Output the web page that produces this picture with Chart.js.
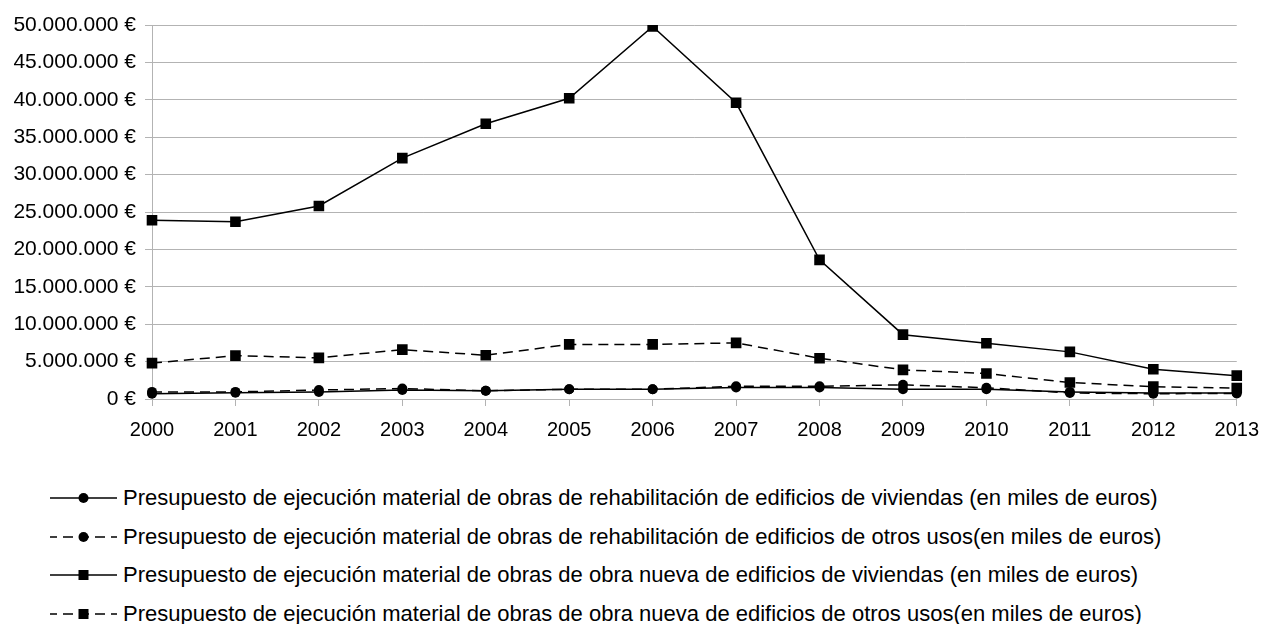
<!DOCTYPE html>
<html lang="es">
<head>
<meta charset="utf-8">
<title>Presupuesto de ejecución material</title>
<script src="https://cdn.jsdelivr.net/npm/chart.js@4.4.1/dist/chart.umd.min.js"></script>
<style>
    body { margin: 0; background: #fff; font-family: "Liberation Sans", Arial, sans-serif; }
    #wrap { position: relative; width: 1271px; height: 624px; }
    #chartBox { position: absolute; left: 0; top: 0; width: 1271px; height: 440px; }
    #leyenda { position: absolute; left: 50px; top: 479px; }
    .fila { display: flex; align-items: center; height: 38.5px; font-size: 22px; color: #000; white-space: nowrap; }
    .fila svg { margin-right: 6px; }
</style>
</head>
<body>
<div id="wrap">
    <div id="chartBox"><canvas id="myChart"></canvas></div>
    <div id="leyenda"></div>
</div>
<script>
// Años
const anios = ['2000', '2001', '2002', '2003', '2004', '2005', '2006', '2007', '2008', '2009', '2010', '2011', '2012', '2013'];

// Series (euros)
const rehabViviendas = [700000, 850000, 950000, 1200000, 1100000, 1300000, 1300000, 1550000, 1550000, 1300000, 1300000, 950000, 800000, 800000];
const rehabOtrosUsos = [950000, 950000, 1200000, 1400000, 1100000, 1300000, 1300000, 1700000, 1700000, 1900000, 1500000, 800000, 700000, 750000];
const nuevaViviendas = [23900000, 23700000, 25800000, 32200000, 36800000, 40200000, 49800000, 39600000, 18600000, 8600000, 7450000, 6300000, 3970000, 3120000];
const nuevaOtrosUsos = [4800000, 5800000, 5500000, 6600000, 5850000, 7300000, 7300000, 7500000, 5450000, 3900000, 3400000, 2200000, 1650000, 1450000];

// Etiquetas de la leyenda
const etiquetas = [
    'Presupuesto de ejecución material de obras de rehabilitación de edificios de viviendas (en miles de euros)',
    'Presupuesto de ejecución material de obras de rehabilitación de edificios de otros usos(en miles de euros)',
    'Presupuesto de ejecución material de obras de obra nueva de edificios de viviendas (en miles de euros)',
    'Presupuesto de ejecución material de obras de obra nueva de edificios de otros usos(en miles de euros)'
];

// Eje Y
const ejeMax = 50000000;
const ejePaso = 5000000;

const series = [
    { label: etiquetas[0], data: rehabViviendas, dash: [], punto: 'circle' },
    { label: etiquetas[1], data: rehabOtrosUsos, dash: [10, 6], punto: 'circle' },
    { label: etiquetas[2], data: nuevaViviendas, dash: [], punto: 'rect' },
    { label: etiquetas[3], data: nuevaOtrosUsos, dash: [10, 6], punto: 'rect' }
];

const gris = '#b3b3b3';
const familia = '"Liberation Sans", Arial, sans-serif';

function formatoEuros(v) {
    return String(v).replace(/\B(?=(\d{3})+(?!\d))/g, '.') + ' €';
}

function createChart() {
    const ctx = document.getElementById('myChart').getContext('2d');
    new Chart(ctx, {
        type: 'line',
        data: {
            labels: anios,
            datasets: series.map(s => ({
                label: s.label,
                data: s.data,
                borderColor: '#000',
                backgroundColor: '#000',
                borderWidth: 1.5,
                borderDash: s.dash,
                pointStyle: s.punto,
                pointRadius: s.punto === 'rect' ? 7.5 : 5,
                pointBorderWidth: 0,
                tension: 0,
                fill: false
            }))
        },
        options: {
            responsive: true,
            maintainAspectRatio: false,
            animation: false,
            layout: { padding: { top: 25, right: 26, left: 0, bottom: 0 } },
            plugins: {
                legend: { display: false },
                tooltip: { enabled: false }
            },
            scales: {
                x: {
                    offset: false,
                    grid: { drawOnChartArea: false, drawTicks: true, tickLength: 7, color: gris },
                    border: { color: gris },
                    ticks: { color: '#000', font: { family: familia, size: 20 }, padding: 12, maxRotation: 0, autoSkip: false },
                    afterFit: s => { s.height = 41; }
                },
                y: {
                    min: 0,
                    max: ejeMax,
                    grid: { color: gris, tickLength: 7 },
                    border: { color: gris },
                    ticks: { stepSize: ejePaso, color: '#000', font: { family: familia, size: 21 }, padding: 9, callback: formatoEuros },
                    afterFit: s => { s.width = 152; }
                }
            }
        }
    });
}

// Leyenda en HTML con muestra de línea y marcador
function crearLeyenda() {
    const cont = document.getElementById('leyenda');
    series.forEach(s => {
        const fila = document.createElement('div');
        fila.className = 'fila';
        const dash = s.dash.length ? `stroke-dasharray="${s.dash.join(' ')}" stroke-dashoffset="3"` : '';
        const marca = s.punto === 'rect'
            ? '<rect x="28.5" y="5" width="10" height="10" fill="#000"/>'
            : '<circle cx="33.5" cy="10" r="5" fill="#000"/>';
        fila.innerHTML = `
            <svg width="67" height="20"><line x1="0" y1="10" x2="67" y2="10" stroke="#000" stroke-width="1.5" ${dash}/>${marca}</svg>
            <span>${s.label}</span>
        `;
        cont.appendChild(fila);
    });
}

document.addEventListener("DOMContentLoaded", () => {
    createChart();
    crearLeyenda();
});
</script>
</body>
</html>
